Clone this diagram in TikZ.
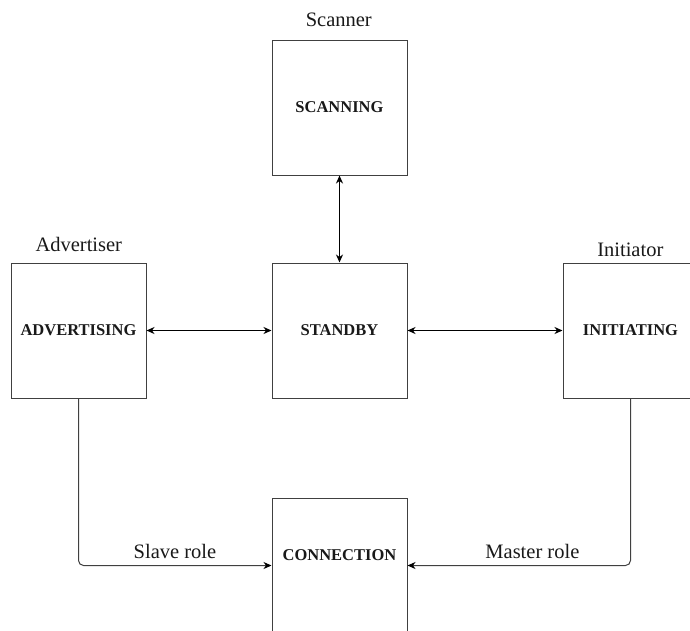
\documentclass[tikz,border=0pt]{standalone}
\usepackage{fontspec}
\setmainfont{Liberation Serif}
\usetikzlibrary{arrows.meta,positioning,calc}

\tikzset{
  statebox/.style={draw=black!75, line width=1pt, rectangle,
    minimum width=135pt, minimum height=135pt, inner sep=0pt,
    font=\fontsize{16.5}{18}\selectfont\bfseries, text=black!90},
  rolelabel/.style={font=\fontsize{20.5}{23}\selectfont, text=black!90, inner sep=0pt},
  link/.style={line width=1.2pt, black,
    {Stealth[length=8pt,width=7pt,inset=2.5pt]}-{Stealth[length=8pt,width=7pt,inset=2.5pt]}},
  rolelink/.style={line width=1pt, draw=black!75, rounded corners=5pt,
    -{Stealth[length=8pt,width=7pt,inset=2.5pt,black]}},
}

\begin{document}
\begin{tikzpicture}[x=1pt,y=-1pt]
  \clip (0,0) rectangle (690,630);
  \fill[white] (0,0) rectangle (690,630);

  % link-layer states
  \node[statebox] (scan) at (339.5,107.5) {SCANNING};
  \node[statebox] (stby) at (339.5,330.5) {STANDBY};
  \node[statebox] (adv)  at (78.5,330.5)  {ADVERTISING};
  \node[statebox] (init) at (630.5,330.5) {INITIATING};
  \node[statebox, label={[yshift=10pt,font=\fontsize{16.5}{18}\selectfont\bfseries,text=black!90]center:CONNECTION}] (con) at (339.5,565.5) {};

  % roles above the states
  \node[rolelabel, anchor=base] (scanner) at ($(scan.north)+(-0.7,-13)$) {Scanner};
  \node[rolelabel, anchor=base] (advertiser) at ($(adv.north)+(0.3,-11)$) {Advertiser};
  \node[rolelabel, anchor=base] (initiator) at ($(init.north)+(-0.2,-6.3)$) {Initiator};

  % transitions to and from standby
  \draw[link] (scan.south) -- (stby.north);
  \draw[link] (adv.east) -- (stby.west);
  \draw[link] (stby.east) -- (init.west);

  % entering the connection state
  \draw[rolelink] (adv.south) |- (con.west)
    node[rolelabel, pos=0.75, yshift=14pt] (slave) {Slave role};
  \draw[rolelink] (init.south) |- (con.east)
    node[rolelabel, pos=0.72, yshift=14pt] (master) {Master role};
\end{tikzpicture}
\end{document}
